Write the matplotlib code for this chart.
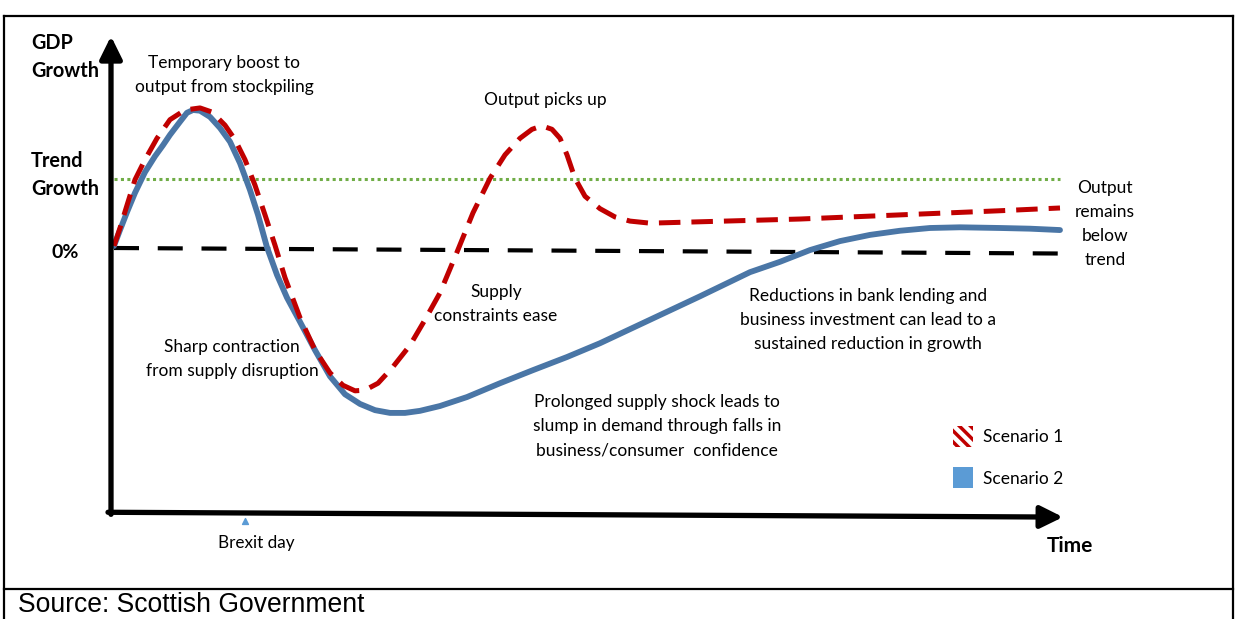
import matplotlib.pyplot as plt
from matplotlib.patches import Rectangle
from matplotlib.lines import Line2D

# time in arbitrary units, growth in units of trend growth (0 = 0%, 1 = trend)
s1_t = [0.3, 0.9, 1.6, 2.4, 3.4, 4.6, 5.9, 7.4, 8.9, 10.1, 11.4, 12.4, 13.4, 14.4,
        15.4, 16.4, 17.4, 18.9, 20.4, 21.9, 23.2, 24.4, 25.4, 26.7, 28.1, 29.9,
        31.4, 32.9, 34.6, 36.2, 37.9, 39.4, 40.9, 42.1, 43.1, 44.1, 44.9, 45.6,
        46.4, 47.4, 48.9, 50.4, 51.9, 53.9, 58.9, 68.9, 78.9, 88.9, 94.9]
s1_v = [0.03, 0.29, 0.62, 0.99, 1.28, 1.59, 1.86, 2.00, 2.03, 1.97, 1.78, 1.57,
        1.28, 0.91, 0.48, 0.04, -0.43, -1.01, -1.48, -1.81, -1.99, -2.07, -2.06,
        -1.96, -1.74, -1.41, -1.04, -0.65, -0.06, 0.51, 1.01, 1.35, 1.59, 1.72,
        1.77, 1.72, 1.59, 1.35, 1.01, 0.75, 0.57, 0.45, 0.39, 0.36, 0.38, 0.42,
        0.48, 0.54, 0.58]

s2_t = [0.3, 0.9, 1.6, 2.4, 3.4, 4.4, 5.2, 5.9, 6.9, 7.6, 8.2, 8.9, 9.9, 10.9,
        11.9, 12.9, 13.9, 14.7, 15.6, 16.6, 17.6, 18.9, 20.4, 21.9, 23.4, 24.9,
        26.4, 27.9, 29.4, 30.9, 32.9, 35.6, 38.9, 42.2, 45.6, 48.9, 53.9, 58.9,
        63.9, 66.9, 69.9, 72.9, 75.9, 78.9, 81.9, 84.9, 88.9, 91.9, 94.9]
s2_v = [0.03, 0.26, 0.52, 0.80, 1.10, 1.33, 1.49, 1.64, 1.83, 1.96, 2.00, 1.99,
        1.90, 1.74, 1.54, 1.23, 0.84, 0.48, 0.01, -0.39, -0.72, -1.07, -1.48,
        -1.86, -2.12, -2.26, -2.35, -2.39, -2.39, -2.36, -2.29, -2.16, -1.96,
        -1.77, -1.58, -1.38, -1.04, -0.70, -0.35, -0.20, -0.03, 0.10, 0.19, 0.25,
        0.29, 0.30, 0.29, 0.28, 0.26]

zero_t = [0.3, 94.9]
zero_v = [0.0, -0.08]
trend_t = [0.3, 94.9]
trend_v = [1.0, 1.0]
brexit_t = 13.4

W, H = 1237, 619
fig = plt.figure(figsize=(W / 100, H / 100), dpi=100)
ax = fig.add_axes([0, 0, 1, 1])
ax.set_xlim(-11.1, 112.6)
ax.set_ylim((248 - 619) / 69, 248 / 69)
ax.axis('off')

font = 'Lato'


def px(x, y):
    return x / W, 1 - y / H


def txt(x, y, s, size=12.5, weight='normal', ha='center', family=font, ls=1.62):
    fig.text(*px(x, y), s, fontsize=size, fontweight=weight, ha=ha, va='center',
             family=family, linespacing=ls)


# frame around the chart
for xs, ys in [([4, 1233], [16, 16]), ([4, 4], [16, 619]), ([1233, 1233], [16, 619]),
               ([4, 1233], [589, 589])]:
    fig.add_artist(Line2D([x / W for x in xs], [1 - y / H for y in ys], color='black', lw=1.6))

# reference lines
ax.plot(trend_t, trend_v, color='#70ad47', lw=2.2, dashes=(1, 1.1))
ax.plot(zero_t, zero_v, color='black', lw=3.0, dashes=(6, 4.5))

# scenarios
ax.plot(s2_t, s2_v, color='#4a76a6', lw=4.2, solid_joinstyle='round', solid_capstyle='round')
ax.plot(s1_t, s1_v, color='#c00000', lw=3.6, dashes=(4.3, 2.2))

# axes arrows
arrow = dict(arrowstyle='-|>,head_length=0.85,head_width=0.42', lw=3.8, color='black',
             shrinkA=0, shrinkB=0, mutation_scale=16)
ax.annotate('', xy=(0, 3.07), xytext=(0, -3.86), arrowprops=arrow)
ax.annotate('', xy=(95.2, -3.90), xytext=(-0.3, -3.83), arrowprops=arrow)

ax.scatter([brexit_t], [-3.96], marker='^', s=18, color='#5b9bd5', zorder=5)

# axis labels
txt(31, 57, 'GDP\nGrowth', size=14.3, weight='bold', ha='left', ls=1.45)
txt(31, 175, 'Trend\nGrowth', size=14.3, weight='bold', ha='left', ls=1.45)
txt(65, 252, '0%', size=14, weight='bold')
txt(1070, 546, 'Time', size=15, weight='bold')

# annotations
txt(224, 75, 'Temporary boost to\noutput from stockpiling')
txt(545, 100, 'Output picks up')
txt(1105, 224, 'Output\nremains\nbelow\ntrend')
txt(496, 304, 'Supply\nconstraints ease')
txt(868, 320, 'Reductions in bank lending and\nbusiness investment can lead to a\nsustained reduction in growth')
txt(232, 359, 'Sharp contraction\nfrom supply disruption')
txt(657, 426, 'Prolonged supply shock leads to\nslump in demand through falls in\nbusiness/consumer  confidence')
txt(256, 543, 'Brexit day', size=12.3)

# legend
plt.rcParams['hatch.linewidth'] = 2.5
fig.add_artist(Rectangle(px(953, 447), 20 / W, 21 / H, facecolor='white',
                         edgecolor='#c00000', hatch='\\\\\\', lw=0))
fig.add_artist(Rectangle(px(953, 488), 20 / W, 21 / H, facecolor='#5b9bd5', lw=0))
txt(983, 437, 'Scenario 1', ha='left')
txt(983, 479, 'Scenario 2', ha='left')

txt(18, 605, 'Source: Scottish Government', size=19.1, ha='left', family='Liberation Sans')

fig.savefig('out.png', dpi=100)
